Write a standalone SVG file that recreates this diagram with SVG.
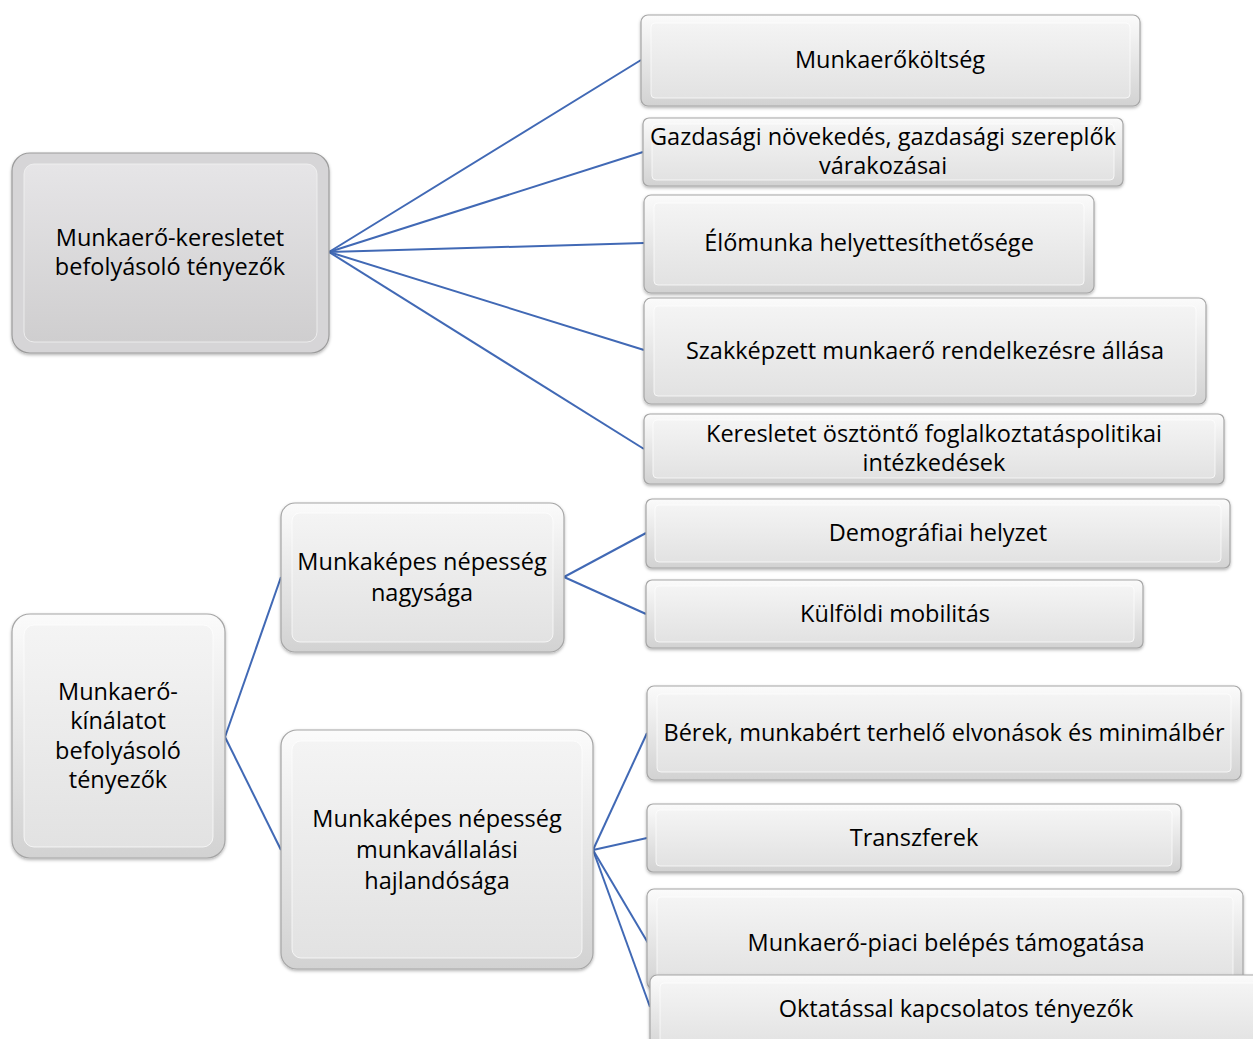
<svg xmlns="http://www.w3.org/2000/svg" width="1253" height="1039" viewBox="0 0 1253 1039">
<defs>
<linearGradient id="gOuter" x1="0" y1="0" x2="0" y2="1">
<stop offset="0" stop-color="#fbfbfb"/><stop offset="1" stop-color="#d2d2d2"/>
</linearGradient>
<linearGradient id="gInner" x1="0" y1="0" x2="0" y2="1">
<stop offset="0" stop-color="#f4f4f4"/><stop offset="1" stop-color="#e2e2e2"/>
</linearGradient>
<linearGradient id="gSel" x1="0" y1="0" x2="0" y2="1">
<stop offset="0" stop-color="#e6e5e7"/><stop offset="1" stop-color="#cfcecf"/>
</linearGradient>
<filter id="sh" x="-5%" y="-5%" width="110%" height="115%">
<feDropShadow dx="0" dy="1.5" stdDeviation="1.5" flood-color="#000" flood-opacity="0.3"/>
</filter>
</defs>
<style>
.o{fill:url(#gOuter);stroke:#a6a6a6;stroke-width:1.2;filter:url(#sh)}
.i{fill:url(#gInner);stroke:#ffffff;stroke-opacity:0.7;stroke-width:1}
.os{fill:#d6d5d7;stroke:#9c9c9c;stroke-width:1.2;filter:url(#sh)}
.is{fill:url(#gSel);stroke:#f2f2f2;stroke-opacity:0.8;stroke-width:1}
text{font-family:"Open Sans","Liberation Sans",sans-serif;font-size:23.5px;fill:#000;text-anchor:middle}
.c{stroke:#4169b5;stroke-width:2;fill:none}
</style>
<g id="connectors">
<line class="c" x1="329" y1="252" x2="641" y2="60"/>
<line class="c" x1="329" y1="252" x2="643" y2="152"/>
<line class="c" x1="329" y1="252" x2="644" y2="243"/>
<line class="c" x1="329" y1="252" x2="644" y2="350"/>
<line class="c" x1="329" y1="252" x2="644" y2="449"/>
<line class="c" x1="225" y1="737" x2="281" y2="577"/>
<line class="c" x1="225" y1="737" x2="281" y2="850"/>
<line class="c" x1="564" y1="577" x2="646" y2="533"/>
<line class="c" x1="564" y1="577" x2="646" y2="614"/>
<line class="c" x1="593" y1="850" x2="647" y2="733"/>
<line class="c" x1="593" y1="850" x2="647" y2="838"/>
<line class="c" x1="593" y1="850" x2="648" y2="943"/>
<line class="c" x1="593" y1="850" x2="650" y2="1007"/>
</g>
<g id="n-demand">
<rect class="os" x="12" y="153" width="317" height="200" rx="18"/>
<rect class="is" x="24" y="164" width="293" height="178" rx="10"/>
<text x="170" y="246">Munkaerő-keresletet</text>
<text x="170" y="275">befolyásoló tényezők</text>
</g>
<g id="n-cost">
<rect class="o" x="641" y="15" width="499" height="91" rx="7"/>
<rect class="i" x="651" y="23" width="479" height="75" rx="4"/>
<text x="890" y="68">Munkaerőköltség</text>
</g>
<g id="n-growth">
<rect class="o" x="643" y="118" width="480" height="68" rx="6"/>
<rect class="i" x="652" y="124" width="462" height="56" rx="4"/>
<text x="883" y="145">Gazdasági növekedés, gazdasági szereplők</text>
<text x="883" y="174">várakozásai</text>
</g>
<g id="n-subst">
<rect class="o" x="644" y="195" width="450" height="98" rx="7"/>
<rect class="i" x="654" y="203" width="430" height="82" rx="4"/>
<text x="869" y="251">Élőmunka helyettesíthetősége</text>
</g>
<g id="n-skilled">
<rect class="o" x="644" y="298" width="562" height="106" rx="7"/>
<rect class="i" x="654" y="306" width="542" height="90" rx="4"/>
<text x="925" y="359">Szakképzett munkaerő rendelkezésre állása</text>
</g>
<g id="n-policy">
<rect class="o" x="644" y="414" width="580" height="70" rx="6"/>
<rect class="i" x="653" y="420" width="562" height="58" rx="4"/>
<text x="934" y="442">Keresletet ösztöntő foglalkoztatáspolitikai</text>
<text x="934" y="471">intézkedések</text>
</g>
<g id="n-supply">
<rect class="o" x="12" y="614" width="213" height="244" rx="18"/>
<rect class="i" x="24" y="625" width="189" height="222" rx="10"/>
<text x="118" y="700">Munkaerő-</text>
<text x="118" y="729">kínálatot</text>
<text x="118" y="759">befolyásoló</text>
<text x="118" y="788">tényezők</text>
</g>
<g id="n-size">
<rect class="o" x="281" y="503" width="283" height="149" rx="14"/>
<rect class="i" x="292" y="513" width="261" height="129" rx="8"/>
<text x="422" y="570">Munkaképes népesség</text>
<text x="422" y="601">nagysága</text>
</g>
<g id="n-demo">
<rect class="o" x="646" y="499" width="584" height="69" rx="6"/>
<rect class="i" x="655" y="505" width="566" height="57" rx="4"/>
<text x="938" y="541">Demográfiai helyzet</text>
</g>
<g id="n-mobility">
<rect class="o" x="646" y="580" width="497" height="68" rx="6"/>
<rect class="i" x="655" y="586" width="479" height="56" rx="4"/>
<text x="895" y="622">Külföldi mobilitás</text>
</g>
<g id="n-willing">
<rect class="o" x="281" y="730" width="312" height="239" rx="16"/>
<rect class="i" x="292" y="741" width="290" height="217" rx="9"/>
<text x="437" y="827">Munkaképes népesség</text>
<text x="437" y="858">munkavállalási</text>
<text x="437" y="889">hajlandósága</text>
</g>
<g id="n-wages">
<rect class="o" x="647" y="686" width="594" height="94" rx="7"/>
<rect class="i" x="657" y="694" width="574" height="78" rx="4"/>
<text x="944" y="741">Bérek, munkabért terhelő elvonások és minimálbér</text>
</g>
<g id="n-transfer">
<rect class="o" x="647" y="804" width="534" height="68" rx="6"/>
<rect class="i" x="656" y="810" width="516" height="56" rx="4"/>
<text x="914" y="846">Transzferek</text>
</g>
<g id="n-entry">
<rect class="o" x="647" y="889" width="596" height="100" rx="7"/>
<rect class="i" x="657" y="897" width="576" height="84" rx="4"/>
<text x="946" y="951">Munkaerő-piaci belépés támogatása</text>
</g>
<g id="n-edu">
<rect class="o" x="650" y="975" width="620" height="80" rx="7"/>
<rect class="i" x="660" y="983" width="600" height="64" rx="4"/>
<text x="956" y="1017">Oktatással kapcsolatos tényezők</text>
</g>
</svg>
